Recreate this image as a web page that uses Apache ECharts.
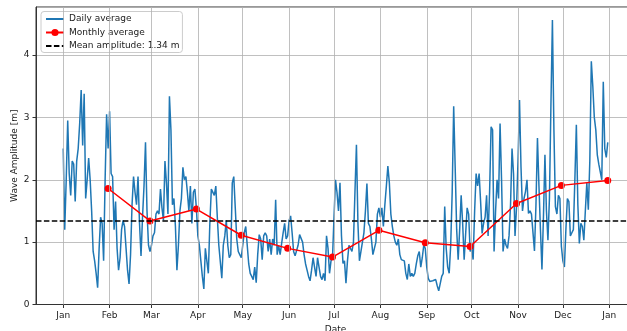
<!DOCTYPE html>
<html><head><meta charset="utf-8">
<script src="https://cdn.jsdelivr.net/npm/echarts@6/dist/echarts.min.js"></script>
<style>html,body{margin:0;padding:0;background:#fff}#c{width:627px;height:331px}</style>
</head><body><div id="c"></div>
<script>
// ---- data ----
const monthLabels = ['Jan','Feb','Mar','Apr','May','Jun','Jul','Aug','Sep','Oct','Nov','Dec','Jan'];
const monthStartDays = [0,31,59,90,120,151,181,212,243,273,304,334,365];
const monthEndDays = [30,58,89,119,150,180,211,242,272,303,333,364];
const monthlyAverage = [1.86,1.34,1.53,1.11,0.90,0.76,1.19,0.99,0.93,1.62,1.91,1.99];
const meanAmplitude = 1.34;

const dailyJan = [2.5,1.2,2.0,2.95,2.1,1.75,2.3,2.25,1.65,2.3,2.5,2.9,3.44,2.55,3.38,1.7,2.0,2.35,2.0,1.5,0.85,0.7,0.5,0.27,0.9,1.4,1.3,0.7,2.0,3.05,2.5];
const dailyFeb = [3.1,2.1,2.05,1.2,1.65,0.9,0.55,0.75,1.2,1.35,1.25,0.9,0.55,0.33,0.8,1.6,2.05,1.8,1.6,2.05,1.3,0.78,1.4,1.9,2.6,1.5,0.95,0.85];
const dailyMar = [0.95,1.1,1.15,1.45,1.5,1.45,1.85,1.55,1.35,2.3,1.95,1.45,3.34,2.8,1.6,1.7,1.25,0.55,0.95,1.5,1.7,2.2,2.0,2.05,1.8,1.5,1.9,1.3,1.8,1.85,1.55];
const dailyApr = [1.1,0.95,0.7,0.45,0.25,0.9,0.9,0.5,1.3,1.85,1.85,1.75,1.9,1.4,0.95,0.95,0.42,0.95,1.1,1.35,0.95,0.75,0.8,1.95,2.05,1.55,1.05,0.85,0.8,0.75];
const dailyMay = [0.75,1.15,1.25,1.25,0.65,0.5,0.45,0.4,0.6,0.35,0.8,1.12,1.05,0.72,1.1,1.15,1.1,0.85,1.05,0.8,1.05,0.95,1.68,0.8,0.95,0.8,0.98,1.15,1.3,1.05,1.1];
const dailyJun = [1.35,1.42,1.15,0.85,0.78,0.8,0.95,1.12,1.14,1.0,0.8,0.65,0.55,0.45,0.38,0.55,0.75,0.6,0.45,0.75,0.6,0.45,0.4,0.5,0.38,1.1,0.9,0.5,0.7,0.75];
const dailyJul = [1.4,2.0,1.8,1.5,1.95,1.1,0.66,0.7,0.34,0.7,0.95,0.95,0.85,1.0,1.8,2.56,1.3,0.7,0.68,1.0,1.15,1.5,1.94,1.3,1.25,1.05,0.8,0.82,1.0,1.45,1.55];
const dailyAug = [1.4,1.55,1.25,1.6,1.9,2.22,1.95,1.45,1.25,1.1,1.0,0.95,1.05,0.8,0.72,0.75,0.7,0.5,0.4,0.65,0.45,0.5,0.45,0.5,0.65,0.78,0.85,0.6,0.75,0.95,0.9];
const dailySep = [0.6,0.42,0.37,0.34,0.38,0.35,0.4,0.3,0.22,0.22,0.45,0.5,1.57,0.9,0.6,0.5,0.95,1.8,3.18,2.2,1.2,0.72,1.2,1.75,1.3,0.72,0.7,1.55,1.45,0.85];
const dailyOct = [0.9,0.72,1.5,2.1,1.9,2.1,1.65,1.14,1.3,1.4,1.75,1.1,1.8,2.85,2.8,0.85,1.5,2.0,1.7,2.9,2.0,0.85,1.05,0.95,0.9,1.1,1.6,2.5,2.1,1.1,1.55];
const dailyNov = [2.3,3.28,2.2,1.5,1.7,1.81,2.0,1.46,1.5,1.45,1.45,0.86,1.6,2.67,1.9,1.2,0.56,1.4,2.4,1.5,1.03,1.7,3.2,4.56,2.8,1.57,1.45,1.75,1.7,0.93];
const dailyDec = [0.7,0.6,1.2,1.7,1.65,1.1,1.15,1.2,2.0,2.88,1.6,0.98,1.3,1.25,1.03,1.5,1.95,1.52,2.3,3.9,3.5,3.0,2.8,2.4,2.25,2.28,2.0,3.57,2.5,2.36,2.6];

const dailyValues = [].concat(dailyJan, dailyFeb, dailyMar, dailyApr, dailyMay, dailyJun,
  dailyJul, dailyAug, dailySep, dailyOct, dailyNov, dailyDec);

// ---- chart ----
const FONT = 'DejaVu Sans';
const TXT = '#1a1a1a';
const meanName = 'Mean amplitude: ' + meanAmplitude.toFixed(2) + ' m';
const hiddenSymbol = {opacity: 0, color: 'transparent', borderColor: 'transparent', borderWidth: 0};
const chart = echarts.init(document.getElementById('c'), null, {renderer: 'canvas', width: 627, height: 331});
chart.setOption({
  animation: false,
  backgroundColor: '#ffffff',
  grid: {left: 36, right: -8, top: 7, bottom: 26.5, show: true, borderColor: '#333', borderWidth: 1,
         backgroundColor: 'transparent', containLabel: false, outerBoundsMode: 'none'},
  legend: {
    show: true, orient: 'vertical', left: 41, top: 11.5, padding: [3, 3, 2, 4],
    itemWidth: 18, itemHeight: 9, itemGap: 4.5,
    backgroundColor: 'rgba(255,255,255,0.8)', borderColor: '#cccccc', borderWidth: 1, borderRadius: 3,
    textStyle: {fontFamily: FONT, fontSize: 9, color: TXT},
    data: [
      {name: 'Daily average', itemStyle: hiddenSymbol},
      {name: 'Monthly average'},
      {name: meanName, itemStyle: hiddenSymbol}
    ]
  },
  xAxis: {
    type: 'value', min: -18.2, max: 382.2,
    name: 'Date', nameLocation: 'middle', nameGap: 21, nameMoveOverlap: false,
    nameTextStyle: {fontFamily: FONT, fontSize: 9, color: TXT},
    axisLine: {show: true, onZero: false, lineStyle: {color: '#333', width: 1}},
    axisTick: {show: true, customValues: monthStartDays, length: 3.5, inside: false, lineStyle: {color: '#333', width: 1}},
    axisLabel: {show: true, customValues: monthStartDays, margin: 7,
      formatter: function (v) { const i = monthStartDays.indexOf(v); return i >= 0 ? monthLabels[i] : ''; },
      fontFamily: FONT, fontSize: 9, color: TXT},
    splitLine: {show: false}
  },
  yAxis: {
    type: 'value', min: 0, max: 4.77, interval: 1,
    name: 'Wave Amplitude [m]', nameLocation: 'middle', nameGap: 16.5, nameMoveOverlap: false,
    nameTextStyle: {fontFamily: FONT, fontSize: 9, color: TXT},
    axisLine: {show: true, onZero: false, lineStyle: {color: '#333', width: 1}},
    axisTick: {show: true, length: 3.5, inside: false, lineStyle: {color: '#333', width: 1}},
    axisLabel: {show: true, margin: 6.5, showMaxLabel: false, fontFamily: FONT, fontSize: 9, color: TXT},
    splitLine: {show: true, lineStyle: {color: '#b0b0b0', width: 0.8}}
  },
  series: [
    {
      name: 'xgrid', type: 'line', data: [], z: 1, silent: true,
      markLine: {silent: true, symbol: 'none', animation: false, label: {show: false},
        lineStyle: {color: '#b0b0b0', width: 0.8, type: 'solid'},
        emphasis: {disabled: true},
        data: monthStartDays.map(function (d) { return {xAxis: d}; })}
    },
    {
      name: 'Daily average', type: 'line', z: 3,
      data: dailyValues.map(function (v, i) { return [i, v]; }),
      symbol: 'none', lineStyle: {color: '#1f77b4', width: 1.5}, itemStyle: {color: '#1f77b4'}
    },
    {
      name: 'Monthly average', type: 'line', z: 4,
      data: monthEndDays.map(function (d, i) { return [d, monthlyAverage[i]]; }),
      symbol: 'circle', symbolSize: 7, lineStyle: {color: '#ff0000', width: 1.5}, itemStyle: {color: '#ff0000'}
    },
    {
      name: meanName, type: 'line', z: 5, data: [], symbol: 'none',
      lineStyle: {color: '#000000', width: 1.5, type: [5.5, 2.4]}, itemStyle: {color: '#000000'},
      markLine: {silent: true, symbol: 'none', animation: false, label: {show: false},
        lineStyle: {color: '#000000', width: 1.5, type: [5.5, 2.4]},
        emphasis: {disabled: true},
        data: [{yAxis: meanAmplitude}]}
    }
  ]
});
</script>
</body></html>
